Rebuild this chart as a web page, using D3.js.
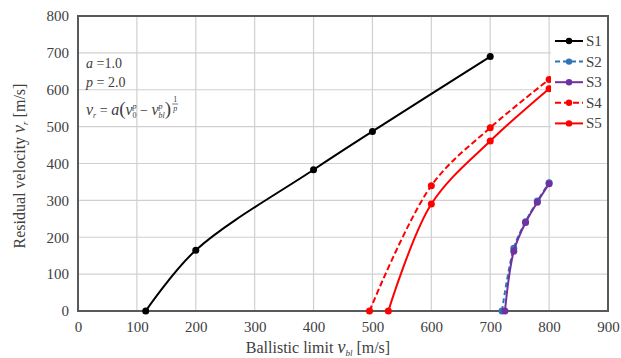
<!DOCTYPE html>
<html>
<head>
<meta charset="utf-8">
<script src="https://cdn.jsdelivr.net/npm/d3@7"></script>
<style>
  body { margin: 0; background: #fff; }
  svg, svg text { font-family: "Liberation Serif", "Times New Roman", serif; }
</style>
</head>
<body>
<div id="chart"></div>
<script>
(function() {
    'use strict';

    // values
    var seriesNames = ["S1", "S2", "S3", "S4", "S5"];
    var s1Vbl = [115, 200, 400, 500, 700];
    var s1Vr  = [0, 165, 383, 487, 690];
    var s2Vbl = [720, 740, 760, 780, 800];
    var s2Vr  = [0, 170, 242, 298, 348];
    var s3Vbl = [725, 740, 760, 780, 800];
    var s3Vr  = [0, 162, 240, 295, 345];
    var s4Vbl = [495, 600, 700, 800];
    var s4Vr  = [0, 340, 497, 628];
    var s5Vbl = [527, 600, 700, 800];
    var s5Vr  = [0, 290, 461, 603];
    var xTicks = [0, 100, 200, 300, 400, 500, 600, 700, 800, 900];
    var yTicks = [0, 100, 200, 300, 400, 500, 600, 700, 800];

    var width = 621, height = 358;
    var margin = {top: 16, right: 13, bottom: 47, left: 78};
    var serif = "'Liberation Serif', 'Times New Roman', serif";

    function zip(xs, ys) {
        return xs.map((x, i) => ({x: x, y: ys[i]}));
    }

    var colors = ["#000000", "#2E75B6", "#7030A0", "#FF0000", "#FF0000"];
    var dashes = [null, "5,3", null, "6,3", null];
    var series = [
        zip(s1Vbl, s1Vr), zip(s2Vbl, s2Vr), zip(s3Vbl, s3Vr), zip(s4Vbl, s4Vr), zip(s5Vbl, s5Vr)
    ].map((pts, i) => ({name: seriesNames[i], color: colors[i], dash: dashes[i], pts: pts}));

    var xScale = d3.scaleLinear()
        .domain([0, 900])
        .range([margin.left, width - margin.right]);

    var yScale = d3.scaleLinear()
        .domain([0, 800])
        .range([height - margin.bottom, margin.top]);

    var svg = d3.select("#chart").append("svg")
        .attr("width", width)
        .attr("height", height)
        .attr("font-family", serif);

    // grid
    var grid = svg.append("g");
    grid.selectAll(".vg").data(xTicks.slice(1, -1)).enter().append("line")
        .attr("x1", d => xScale(d)).attr("x2", d => xScale(d))
        .attr("y1", yScale(800)).attr("y2", yScale(0))
        .attr("stroke", "#d0d0d0").attr("stroke-width", 1.2);
    grid.selectAll(".hg").data(yTicks.slice(1, -1)).enter().append("line")
        .attr("x1", xScale(0)).attr("x2", xScale(900))
        .attr("y1", d => yScale(d)).attr("y2", d => yScale(d))
        .attr("stroke", "#d0d0d0").attr("stroke-width", 1.2);

    // frame
    svg.append("rect")
        .attr("x", xScale(0)).attr("y", yScale(800))
        .attr("width", xScale(900) - xScale(0))
        .attr("height", yScale(0) - yScale(800))
        .attr("fill", "none")
        .attr("stroke", "#595959")
        .attr("stroke-width", 2);

    var xAxis = d3.axisBottom(xScale).tickValues(xTicks).tickSize(0).tickPadding(10);
    var yAxis = d3.axisLeft(yScale).tickValues(yTicks).tickSize(0).tickPadding(9);

    svg.append("g")
        .attr("transform", "translate(0," + yScale(0) + ")")
        .call(xAxis)
        .attr("font-family", serif)
        .attr("font-size", 15)
        .call(g => g.select(".domain").remove())
        .selectAll("text")
        .attr("fill", "#404040");

    svg.append("g")
        .attr("transform", "translate(" + xScale(0) + ",0)")
        .call(yAxis)
        .attr("font-family", serif)
        .attr("font-size", 15)
        .call(g => g.select(".domain").remove())
        .selectAll("text")
        .attr("fill", "#404040");

    // axis titles
    var xt = svg.append("text")
        .attr("x", 318).attr("y", 353)
        .attr("text-anchor", "middle")
        .attr("font-size", 16)
        .attr("fill", "#404040");
    xt.append("tspan").text("Ballistic limit ");
    xt.append("tspan").style("font-style", "italic").attr("font-size", 18).text("v");
    xt.append("tspan").attr("dy", 3).attr("font-size", 9).style("font-style", "italic").text("bl");
    xt.append("tspan").attr("dy", -3).text(" [m/s]");

    var yt = svg.append("text")
        .attr("transform", "translate(25," + 166 + ") rotate(-90)")
        .attr("text-anchor", "middle")
        .attr("font-size", 16)
        .attr("fill", "#404040");
    yt.append("tspan").text("Residual velocity  ");
    yt.append("tspan").style("font-style", "italic").attr("font-size", 18).text("v");
    yt.append("tspan").attr("dy", 3).attr("font-size", 9).style("font-style", "italic").text("r");
    yt.append("tspan").attr("dy", -3).text("  [m/s]");

    // curves
    var lineGen = d3.line()
        .x(d => xScale(d.x))
        .y(d => yScale(d.y))
        .curve(d3.curveCatmullRom.alpha(0.5));

    var plots = svg.selectAll(".serie").data(series).enter().append("g");

    plots.append("path")
        .attr("d", d => lineGen(d.pts))
        .attr("fill", "none")
        .attr("stroke", d => d.color)
        .attr("stroke-width", 2)
        .attr("stroke-dasharray", d => d.dash);

    plots.selectAll("circle")
        .data(d => d.pts.map(p => ({x: p.x, y: p.y, color: d.color})))
        .enter().append("circle")
        .attr("cx", p => xScale(p.x))
        .attr("cy", p => yScale(p.y))
        .attr("r", 3.5)
        .attr("fill", p => p.color);

    // legend
    var legendX = 551, legendY = 30, legendRow = 20.6;
    svg.append("rect")
        .attr("x", legendX).attr("y", legendY)
        .attr("width", 56).attr("height", 106)
        .attr("fill", "#fff");

    var legend = svg.selectAll(".legend").data(series).enter().append("g")
        .attr("transform", (d, i) => "translate(" + legendX + "," + (legendY + 11 + i * legendRow) + ")");

    legend.append("line")
        .attr("x1", 4).attr("x2", 32)
        .attr("y1", 0).attr("y2", 0)
        .attr("stroke", d => d.color)
        .attr("stroke-width", 2)
        .attr("stroke-dasharray", d => d.dash);
    legend.append("circle")
        .attr("cx", 18).attr("cy", 0).attr("r", 3.2)
        .attr("fill", d => d.color);
    legend.append("text")
        .attr("x", 35).attr("y", 5)
        .attr("font-size", 15)
        .attr("fill", "#404040")
        .text(d => d.name);

    // formula annotation
    var note = svg.append("g").attr("fill", "#404040").attr("font-size", 14);
    var t1 = note.append("text").attr("x", 86).attr("y", 68);
    t1.append("tspan").style("font-style", "italic").text("a");
    t1.append("tspan").text(" =1.0");
    var t2 = note.append("text").attr("x", 86).attr("y", 87);
    t2.append("tspan").style("font-style", "italic").text("p");
    t2.append("tspan").text(" = 2.0");

    var f = note.append("text").attr("x", 86).attr("y", 115);
    f.append("tspan").style("font-style", "italic").attr("font-size", 16).text("v");
    f.append("tspan").attr("dy", 3).attr("font-size", 8).style("font-style", "italic").text("r");
    f.append("tspan").attr("dy", -3).text(" = ");
    f.append("tspan").style("font-style", "italic").attr("font-size", 16).text("a");
    f.append("tspan").attr("font-size", 19).text("(");
    f.append("tspan").style("font-style", "italic").attr("font-size", 16).text("v");
    f.append("tspan").attr("dy", -6).attr("font-size", 8).style("font-style", "italic").text("p");
    f.append("tspan").attr("dy", 9).attr("dx", -4).attr("font-size", 8).text("0");
    f.append("tspan").attr("dy", -3).text(" \u2212 ");
    f.append("tspan").style("font-style", "italic").attr("font-size", 16).text("v");
    f.append("tspan").attr("dy", -6).attr("font-size", 8).style("font-style", "italic").text("p");
    f.append("tspan").attr("dy", 9).attr("dx", -4).attr("font-size", 8).style("font-style", "italic").text("bl");
    f.append("tspan").attr("dy", -3).attr("font-size", 19).text(")");

    // 1/p exponent placed right after the closing bracket
    var fx = f.node().getBBox();
    var ex = fx.x + fx.width + 4;
    note.append("text").attr("x", ex).attr("y", 102)
        .attr("font-size", 8).attr("text-anchor", "middle").text("1");
    note.append("line").attr("x1", ex - 3).attr("x2", ex + 3).attr("y1", 104).attr("y2", 104)
        .attr("stroke", "#404040").attr("stroke-width", 0.7);
    note.append("text").attr("x", ex).attr("y", 111)
        .attr("font-size", 8).style("font-style", "italic").attr("text-anchor", "middle").text("p");
})();
</script>
</body>
</html>
